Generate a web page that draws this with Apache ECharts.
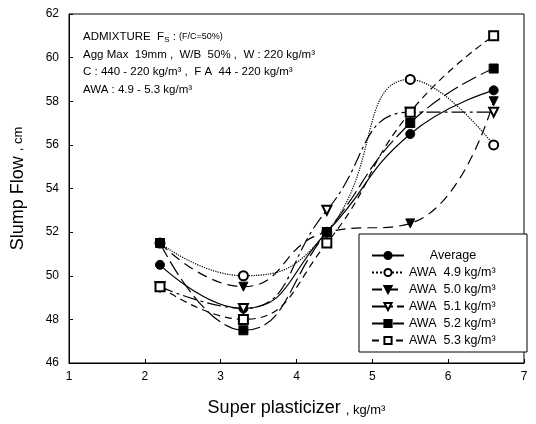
<!DOCTYPE html>
<html>
<head>
<meta charset="utf-8">
<script src="https://cdn.jsdelivr.net/npm/echarts@6/dist/echarts.min.js"></script>
<style>
  html, body { margin: 0; padding: 0; background: #fff; }
  #main { width: 536px; height: 424px; }
</style>
</head>
<body>
<div id="main"></div>
<script>
// Slump flow vs super plasticizer

var superPlasticizer = [2.2, 3.3, 4.4, 5.5, 6.6];

var averageFlow = [50.5, 48.5, 52.0, 56.5, 58.5];
var awa49 = [51.5, 50.0, 52.0, 59.0, 56.0];
var awa50 = [51.5, 49.5, 52.0, 52.4, 58.0];
var awa51 = [49.5, 48.5, 53.0, 57.5, 57.5];
var awa52 = [51.5, 47.5, 52.0, 57.0, 59.5];
var awa53 = [49.5, 48.0, 51.5, 57.5, 61.0];

var seriesNames = [
  "Average",
  "AWA  4.9 kg/m³",
  "AWA  5.0 kg/m³",
  "AWA  5.1 kg/m³",
  "AWA  5.2 kg/m³",
  "AWA  5.3 kg/m³",
];

var notes = [
  "ADMIXTURE  F{sub|S} : {sm|(F/C=50%)}",
  "Agg Max  19mm ,  W/B  50% ,  W : 220 kg/m³",
  "C : 440 - 220 kg/m³ ,  F A  44 - 220 kg/m³",
  "AWA : 4.9 - 5.3 kg/m³",
];

function pairs(ys) {
  return ys.map(function (y, i) {
    return [superPlasticizer[i], y];
  });
}

var dom = document.getElementById("main");
var myChart = echarts.init(dom);
var font = "Liberation Sans, Arial, sans-serif";

function makeSeries(name, data, symbol, dash, rotate) {
  return {
    name: name,
    type: "line",
    data: pairs(data),
    smooth: 0.5,
    symbol: symbol,
    symbolSize: 9,
    symbolRotate: rotate || 0,
    showSymbol: true,
    color: "#000",
    itemStyle: { color: "#000", borderColor: "#000", borderWidth: 1 },
    lineStyle: { color: "#000", width: 1.2, type: dash },
    z: 2,
  };
}

var option = {
  backgroundColor: "#fff",
  animation: false,
  textStyle: { fontFamily: font },
  grid: { left: 69, right: 12, top: 14, bottom: 61 },
  xAxis: {
    type: "value",
    min: 1,
    max: 7,
    interval: 1,
    name: "Super plasticizer {sm|, kg/m³}",
    nameLocation: "middle",
    nameGap: 36,
    nameTextStyle: {
      fontSize: 18,
      color: "#000",
      fontFamily: font,
      rich: { sm: { fontSize: 13, color: "#000", fontFamily: font, padding: [4, 0, 0, 0] } },
    },
    axisLine: { lineStyle: { color: "#000", width: 1 } },
    axisTick: { inside: true, length: 4, lineStyle: { color: "#000" } },
    axisLabel: { color: "#000", fontSize: 12, margin: 8 },
    splitLine: { show: false },
  },
  yAxis: {
    type: "value",
    min: 46,
    max: 62,
    interval: 2,
    name: "Slump Flow {sm|, cm}",
    nameLocation: "middle",
    nameGap: 42,
    nameTextStyle: {
      fontSize: 18,
      color: "#000",
      fontFamily: font,
      rich: { sm: { fontSize: 13, color: "#000", fontFamily: font } },
    },
    axisLine: { lineStyle: { color: "#000", width: 1 } },
    axisTick: { inside: true, length: 4, lineStyle: { color: "#000" } },
    axisLabel: { color: "#000", fontSize: 12, margin: 10 },
    splitLine: { show: false },
  },
  legend: {
    orient: "vertical",
    left: 366,
    top: 244,
    itemGap: 4,
    itemWidth: 32,
    itemHeight: 9,
    z: 5,
    data: seriesNames,
    textStyle: { fontSize: 12.5, color: "#000", fontFamily: font },
    formatter: function (name) {
      return name === "Average" ? "      Average" : name;
    },
  },
  graphic: [
    {
      type: "rect",
      shape: { x: 69, y: 14, width: 455, height: 349 },
      style: { fill: "none", stroke: "#000", lineWidth: 1 },
      silent: true,
    },
    {
      type: "rect",
      shape: { x: 359, y: 234, width: 168, height: 118 },
      style: { fill: "#fff", stroke: "#000", lineWidth: 1 },
      z: 3,
      silent: true,
    },
  ].concat(
    notes.map(function (t, i) {
      return {
        type: "text",
        left: 83,
        top: 31 + i * 17.5,
        z: 20,
        style: {
          text: t,
          fill: "#000",
          font: "11.5px " + font,
          rich: {
            sub: { fontSize: 8, padding: [6, 0, 0, 0], fill: "#000" },
            sm: { fontSize: 9, fill: "#000" },
          },
        },
      };
    })
  ),
  series: [
    makeSeries(seriesNames[0], averageFlow, "circle", "solid"),
    makeSeries(seriesNames[1], awa49, "emptyCircle", "dotted"),
    makeSeries(seriesNames[2], awa50, "triangle", [10, 6], 180),
    makeSeries(seriesNames[3], awa51, "emptyTriangle", [14, 4, 3, 4], 180),
    makeSeries(seriesNames[4], awa52, "rect", [16, 5]),
    makeSeries(seriesNames[5], awa53, "emptyRect", [7, 5]),
  ],
};

if (option && typeof option === "object") {
  myChart.setOption(option);
}
</script>
</body>
</html>
